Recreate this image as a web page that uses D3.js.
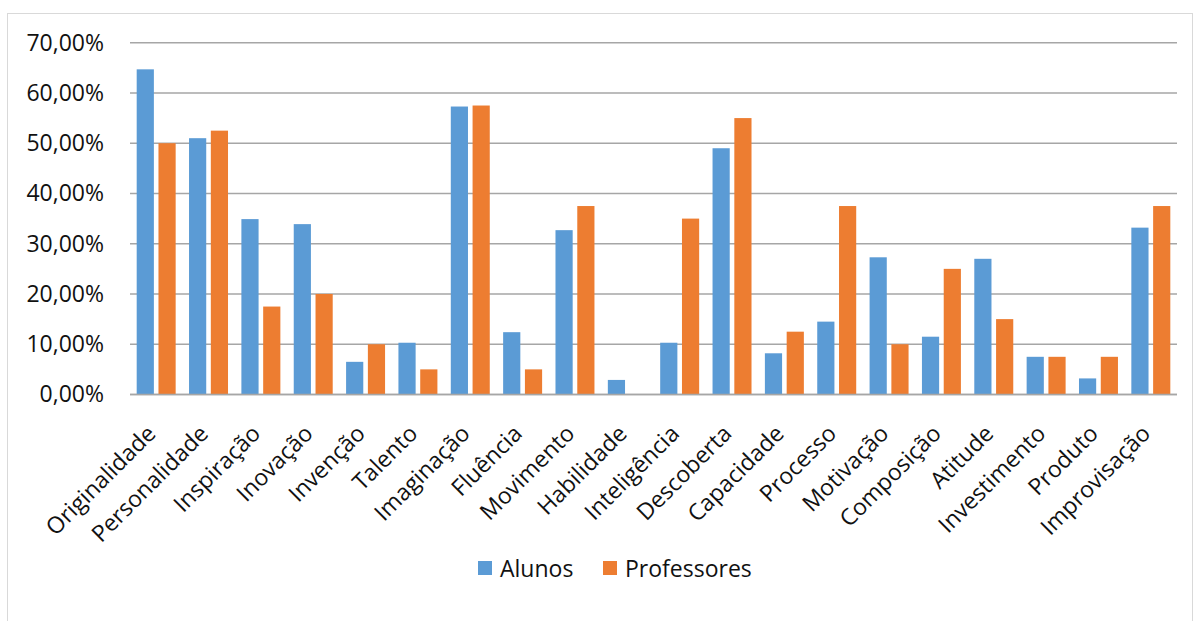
<!DOCTYPE html>
<html>
<head>
<meta charset="utf-8">
<script src="https://cdn.jsdelivr.net/npm/d3@7"></script>
<style>
  html, body { margin: 0; padding: 0; background: #fff; }
  svg { display: block; }
  text { font-family: "Open Sans", "Noto Sans", sans-serif; fill: #111; }
</style>
</head>
<body>
<svg id="chart" width="1194" height="621"></svg>
<script>
// Categories (Portuguese terms) and the share of each group choosing them, in %
const categories = [
  "Originalidade", "Personalidade", "Inspiração", "Inovação", "Invenção",
  "Talento", "Imaginação", "Fluência", "Movimento", "Habilidade",
  "Inteligência", "Descoberta", "Capacidade", "Processo", "Motivação",
  "Composição", "Atitude", "Investimento", "Produto", "Improvisação"
];
const alunos = [
  64.7, 51.0, 34.9, 33.9, 6.5,
  10.3, 57.3, 12.4, 32.7, 2.9,
  10.3, 49.0, 8.2, 14.5, 27.3,
  11.5, 27.0, 7.5, 3.2, 33.2
];
const professores = [
  50.0, 52.5, 17.5, 20.0, 10.0,
  5.0, 57.5, 5.0, 37.5, 0.0,
  35.0, 55.0, 12.5, 37.5, 10.0,
  25.0, 15.0, 7.5, 7.5, 37.5
];
const seriesNames = ["Alunos", "Professores"];
const seriesColors = ["#5B9BD5", "#ED7D31"];
const yTicks = [0, 10, 20, 30, 40, 50, 60, 70];

const svg = d3.select("#chart");

// Outer chart frame
svg.append("rect")
  .attr("x", 7.5).attr("y", 13.5)
  .attr("width", 1185).attr("height", 620)
  .attr("fill", "none").attr("stroke", "#d9d9d9").attr("stroke-width", 1);

const plot = { left: 130, right: 1177, top: 42.7, bottom: 394.5 };

const y = d3.scaleLinear().domain([0, 70]).range([plot.bottom, plot.top]);
const x0 = d3.scaleBand().domain(categories).range([plot.left, plot.right]).padding(0);
const x1 = d3.scaleBand().domain(seriesNames).range([0, x0.bandwidth()])
  .paddingInner(0.211).paddingOuter(0.307);

const fmt = v => d3.format(".2f")(v).replace(".", ",") + "%";

// Horizontal gridlines
svg.append("g")
  .selectAll("line")
  .data(yTicks)
  .join("line")
  .attr("x1", plot.left).attr("x2", plot.right)
  .attr("y1", d => y(d)).attr("y2", d => y(d))
  .attr("stroke", "#a6a6a6").attr("stroke-width", 1.4);

// Y axis labels
const yAxis = d3.axisLeft(y).tickValues(yTicks).tickFormat(fmt).tickSize(0).tickPadding(0);
const yg = svg.append("g").attr("transform", `translate(104,0)`).call(yAxis);
yg.select(".domain").remove();
yg.selectAll("text")
  .attr("font-size", 23)
  .attr("font-family", "'Open Sans', sans-serif")
  .attr("fill", "#111");

// Bars
const rows = categories.map((c, i) => ({ cat: c, vals: [alunos[i], professores[i]] }));
const groups = svg.append("g")
  .selectAll("g")
  .data(rows)
  .join("g")
  .attr("transform", d => `translate(${x0(d.cat)},0)`);

groups.selectAll("rect")
  .data(d => d.vals.map((v, j) => ({ name: seriesNames[j], v, j })))
  .join("rect")
  .filter(d => d.v > 0)
  .attr("x", d => x1(d.name))
  .attr("width", x1.bandwidth())
  .attr("y", d => y(d.v))
  .attr("height", d => y(0) - y(d.v))
  .attr("fill", d => seriesColors[d.j]);

// Baseline redrawn on top of the bars
svg.append("line")
  .attr("x1", plot.left).attr("x2", plot.right)
  .attr("y1", y(0)).attr("y2", y(0))
  .attr("stroke", "#a6a6a6").attr("stroke-width", 1.4);

// Rotated category labels
svg.append("g")
  .selectAll("text")
  .data(categories)
  .join("text")
  .attr("transform", d => `translate(${x0(d) + x0.bandwidth() / 2 + 1},435) rotate(-45)`)
  .attr("text-anchor", "end")
  .attr("font-size", 23)
  .text(d => d);

// Legend
const legendX = [478, 603];
const legend = svg.append("g")
  .selectAll("g")
  .data(seriesNames)
  .join("g")
  .attr("transform", (d, i) => `translate(${legendX[i]},561)`);
legend.append("rect")
  .attr("width", 14).attr("height", 14)
  .attr("fill", (d, i) => seriesColors[i]);
legend.append("text")
  .attr("x", 22).attr("y", 7)
  .attr("dominant-baseline", "central")
  .attr("font-size", 23)
  .text(d => d);
</script>
</body>
</html>
